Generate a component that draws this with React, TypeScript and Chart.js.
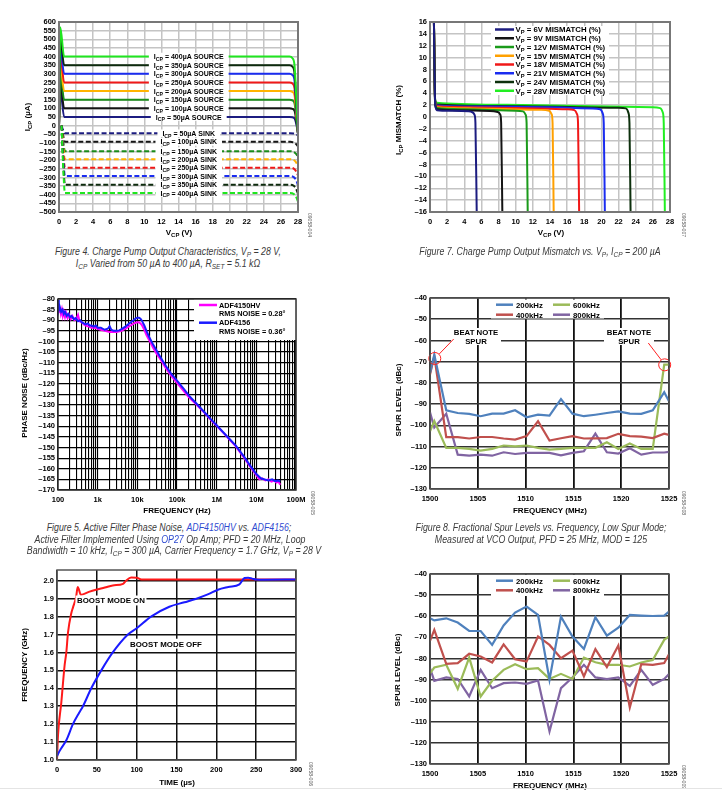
import React, { useEffect, useRef } from "react";
import { Chart, registerables } from "chart.js";

Chart.register(...registerables);

const FONT = '"Liberation Sans", Arial, Helvetica, sans-serif';

// ---------------- Figure 4: charge pump output characteristics ----------------
const FIG4_X_TICKS = [0, 2, 4, 6, 8, 10, 12, 14, 16, 18, 20, 22, 24, 26, 28];
const FIG4_Y_TICKS = [600, 550, 500, 450, 400, 350, 300, 250, 200, 150, 100, 50, 0, -50, -100, -150, -200, -250, -300, -350, -400, -450, -500];
const FIG4_LEVELS = [400, 350, 300, 250, 200, 150, 100, 50];
const FIG4_COLORS = ["#1fe61f", "#0d2a0d", "#1a2cf0", "#f01818", "#ffb400", "#1a8c1a", "#141414", "#1c1c80"];
const FIG4_SRC_X = [0, 0.15, 0.6, 27.0, 27.35, 27.6, 27.8, 28];
const FIG4_SRC_400 = [0, 570, 400, 400, 390, 345, 160, -45];
const FIG4_SRC_350 = [0, 510, 350, 350, 342, 300, 135, -45];
const FIG4_SRC_300 = [0, 460, 300, 300, 293, 258, 115, -45];
const FIG4_SRC_250 = [0, 415, 250, 250, 244, 214, 92, -45];
const FIG4_SRC_200 = [0, 360, 200, 200, 195, 172, 72, -45];
const FIG4_SRC_150 = [0, 310, 150, 150, 146, 128, 52, -45];
const FIG4_SRC_100 = [0, 260, 100, 100, 97, 85, 30, -45];
const FIG4_SRC_50 = [0, 210, 50, 50, 48, 42, 10, -45];
const FIG4_SNK_X = [0.3, 0.45, 0.7, 27.1, 27.5, 27.8, 28];
const FIG4_SNK_400 = [0, -195, -390, -390, -396, -415, -440];
const FIG4_SNK_350 = [0, -171, -342, -342, -348, -368, -395];
const FIG4_SNK_300 = [0, -146, -292, -292, -298, -318, -345];
const FIG4_SNK_250 = [0, -122, -244, -244, -249, -266, -288];
const FIG4_SNK_200 = [0, -97, -194, -194, -199, -214, -235];
const FIG4_SNK_150 = [0, -74, -148, -148, -152, -165, -182];
const FIG4_SNK_100 = [0, -48, -94, -94, -98, -108, -120];
const FIG4_SNK_50 = [0, -22, -44, -44, -46, -50, -56];
const FIG4_LABEL_X = 15.2;

// ---------------- Figure 7: mismatch vs VP ----------------
const FIG7_X_TICKS = [0, 2, 4, 6, 8, 10, 12, 14, 16, 18, 20, 22, 24, 26, 28];
const FIG7_Y_TICKS = [16, 14, 12, 10, 8, 6, 4, 2, 0, -2, -4, -6, -8, -10, -12, -14, -16];
const FIG7_NAMES = ["6V", "9V", "12V", "15V", "18V", "21V", "24V", "28V"];
const FIG7_COLORS = ["#1c1c80", "#141414", "#1a9a1a", "#ffa000", "#f01818", "#1a2cf0", "#0d300d", "#22ee22"];
const FIG7_6V_X = [0.45, 0.6, 0.8, 2.5, 4.5, 4.95, 5.2, 5.3, 5.45];
const FIG7_6V_Y = [17, 2.2, 1.15, 1.05, 0.95, 0.8, 0.35, -1, -16];
const FIG7_9V_X = [0.45, 0.6, 0.8, 3, 7.0, 7.9, 8.2, 8.3, 8.44];
const FIG7_9V_Y = [17, 2.3, 1.3, 1.15, 1.0, 0.85, 0.4, -1, -16];
const FIG7_12V_X = [0.45, 0.6, 0.8, 4, 10, 10.85, 11.15, 11.27, 11.4];
const FIG7_12V_Y = [17, 2.4, 1.5, 1.3, 1.05, 0.95, 0.4, -1, -16];
const FIG7_15V_X = [0.45, 0.6, 0.8, 5, 13, 13.9, 14.18, 14.3, 14.43];
const FIG7_15V_Y = [17, 2.5, 1.65, 1.45, 1.2, 1.05, 0.5, -1, -16];
const FIG7_18V_X = [0.45, 0.6, 0.8, 6, 16, 16.85, 17.15, 17.27, 17.4];
const FIG7_18V_Y = [17, 2.6, 1.8, 1.6, 1.3, 1.15, 0.5, -1, -16];
const FIG7_21V_X = [0.45, 0.6, 0.8, 7, 19, 19.85, 20.15, 20.27, 20.4];
const FIG7_21V_Y = [17, 2.7, 1.95, 1.75, 1.45, 1.3, 0.6, -1, -16];
const FIG7_24V_X = [0.45, 0.6, 0.8, 8, 22, 22.85, 23.15, 23.27, 23.4];
const FIG7_24V_Y = [17, 2.8, 2.1, 1.85, 1.55, 1.45, 0.7, -1, -16];
const FIG7_28V_X = [0.45, 0.6, 0.8, 9, 26, 26.85, 27.15, 27.27, 27.4];
const FIG7_28V_Y = [17, 2.9, 2.4, 2.05, 1.65, 1.5, 0.8, -1, -16];

// ---------------- Figure 5: phase noise ----------------
const FIG5_DECADES = [100, 1000, 10000, 100000, 1000000, 10000000, 100000000];
const FIG5_DECADE_LABELS = ["100", "1k", "10k", "100k", "1M", "10M", "100M"];
const FIG5_Y_TICKS = [-80, -85, -90, -95, -100, -105, -110, -115, -120, -125, -130, -135, -140, -145, -150, -155, -160, -165, -170];
const FIG5_B_FREQ = [100, 105, 110, 120, 130, 140, 150, 165, 180, 200, 220, 250, 280, 320, 360, 400, 450, 500, 560, 630, 700, 800, 900, 1000, 1200, 1500, 1800, 2000, 2200, 2500, 3000, 3500, 4000, 5000, 6000, 7000, 8000, 9000, 10000, 11000, 12000, 13000, 15000, 17000, 20000, 25000, 30000, 40000, 50000, 70000, 100000, 150000, 200000, 300000, 500000, 700000, 1000000, 1500000, 2000000, 3000000, 5000000, 7000000, 10000000, 13000000, 16000000, 20000000, 25000000, 30000000, 35000000, 40000000];
const FIG5_B_VAL = [-80.5, -85, -83.5, -86, -85, -87, -86, -88, -87, -88.5, -88, -89.5, -89, -90.5, -90, -91, -91.5, -92, -91.5, -92.5, -92.5, -93, -92.5, -93.5, -93.5, -94.5, -94, -92.8, -94.5, -95, -95, -94.8, -94.2, -93, -91.8, -90.8, -90, -89.2, -88.8, -88.8, -89.3, -90.2, -92.5, -95, -98, -101.5, -104, -108, -111, -115, -118.5, -122.5, -125.5, -129, -133.5, -136.5, -139.5, -143, -145.5, -149, -154.5, -158.5, -162.5, -164.5, -165, -165.5, -165, -165.8, -165.5, -166];
const FIG5_M_FREQ = [100, 103, 107, 112, 118, 125, 132, 140, 150, 160, 175, 190, 210, 230, 260, 290, 320, 350, 400, 450, 500, 600, 700, 800, 1000, 1200, 1500, 2000, 2500, 3000, 4000, 5000, 6000, 7000, 8000, 9000, 10000, 11000, 12000, 13000, 15000, 17000, 20000, 25000, 30000, 40000, 50000, 70000, 100000, 150000, 200000, 300000, 500000, 700000, 1000000, 1500000, 2000000, 3000000, 5000000, 7000000, 10000000, 12000000, 14000000, 17000000, 20000000, 24000000, 28000000, 32000000, 36000000, 40000000];
const FIG5_M_VAL = [-84, -82, -86, -84.5, -87, -85, -88, -86, -88.5, -86.5, -89, -87.5, -89.5, -88, -90, -89.5, -87.5, -90.5, -91, -92, -92.5, -93, -93.5, -93.5, -94, -94.5, -95, -95.5, -95.5, -95.5, -95, -94, -93, -92.3, -91.6, -91.2, -91, -91, -91.5, -92.3, -94.5, -97, -99.5, -103, -105.5, -109, -112, -116, -119.5, -123.5, -126.3, -129.5, -133.8, -136.8, -139.7, -143.2, -145.8, -149.3, -155, -159, -163, -165, -164.5, -165.5, -165, -166, -165.5, -166.5, -166, -167.5];

// ---------------- Figure 8: fractional spurs, low spur mode ----------------
const SPUR_X_TICKS = [1500, 1505, 1510, 1515, 1520, 1525];
const SPUR_Y_TICKS = [-40, -50, -60, -70, -80, -90, -100, -110, -120, -130];
const SPUR_NAMES = ["200kHz", "400kHz", "600kHz", "800kHz"];
const SPUR_COLORS = ["#4f81bd", "#c0504d", "#9bbb59", "#8064a2"];
const SPUR_FREQ = [1500, 1500.45, 1501.7, 1502.9, 1504.1, 1505.3, 1506.5, 1507.7, 1508.9, 1510.1, 1511.3, 1512.5, 1513.7, 1514.9, 1516.1, 1517.3, 1518.5, 1519.7, 1520.9, 1522.1, 1523.3, 1524.5, 1525];
const FIG8_200K = [-75.3, -66.7, -92.9, -94.2, -94.6, -95.7, -94.5, -94.5, -92.9, -96.2, -95, -95.4, -87.6, -94.5, -95.7, -95, -94.2, -93.4, -94.5, -94.6, -92.9, -84.4, -88.7];
const FIG8_400K = [-76, -67.5, -105.6, -105.6, -106.2, -105.5, -105.5, -106.2, -106.7, -105.1, -98.1, -107.2, -106.1, -105.1, -106.2, -106.1, -106, -104, -105.1, -105.3, -106, -103.9, -104.5];
const FIG8_600K = [-102.8, -98, -110.6, -110.6, -111.1, -111.9, -111.1, -109.5, -109.9, -109.5, -110.6, -111.4, -111.1, -110.6, -110.6, -110.6, -108, -111.1, -108.6, -111.1, -111.1, -71.4, -71.4];
const FIG8_800K = [-93.8, -101, -94.5, -113.8, -114.3, -113.8, -114.3, -112.7, -113.5, -113, -113, -113, -114.1, -113, -112.2, -103.9, -112.7, -113.3, -110.8, -113.8, -112.8, -112.8, -112.5];

// ---------------- Figure 9: fractional spurs (second plot) ----------------
const FIG9_200K = [-61, -62, -61, -63, -67, -67, -73.6, -64.4, -58.3, -55.4, -59.4, -90.1, -60.2, -69.6, -75.5, -60.5, -69.2, -65.4, -59.4, -59.7, -59.9, -59.7, -57.8];
const FIG9_400K = [-71.7, -66.5, -82.6, -82.2, -77.8, -79.1, -81.9, -73.3, -80.4, -81.5, -69.6, -73.6, -79.9, -76.3, -88.5, -75.6, -84.1, -73.9, -103.2, -82.7, -83, -82.2, -78];
const FIG9_600K = [-87, -84.3, -83, -94.4, -79.6, -98, -90.6, -85.4, -82.7, -85.1, -84.6, -89.7, -87.3, -89.7, -79.6, -81.8, -83, -83, -83.8, -81.9, -80.7, -71.2, -69.6];
const FIG9_800K = [-84.6, -90.6, -89, -89.7, -98, -85.4, -94.1, -91.7, -91.4, -92, -90.4, -114.6, -94.1, -89, -83, -89, -89.8, -89, -93, -85.4, -92.5, -89.7, -87.4];

// ---------------- Figure 6: lock time ----------------
const FIG6_X_TICKS = [0, 50, 100, 150, 200, 250, 300];
const FIG6_Y_TICKS = [1.0, 1.1, 1.2, 1.3, 1.4, 1.5, 1.6, 1.7, 1.8, 1.9, 2.0];
const FIG6_ON_T = [0, 1.3, 5.4, 9.6, 11.7, 13.8, 18, 20, 24, 26, 30, 40, 49, 60, 70, 83, 87, 93, 100, 106, 120, 150, 200, 250, 300];
const FIG6_ON_F = [1.0, 1.14, 1.32, 1.53, 1.6, 1.71, 1.82, 1.85, 1.91, 1.965, 1.922, 1.938, 1.95, 1.962, 1.974, 1.983, 2.002, 2.018, 2.017, 2.007, 2.007, 2.007, 2.007, 2.007, 2.007];
const FIG6_OFF_T = [0, 2, 5, 11.7, 20, 28, 32.6, 43, 55.6, 70, 89, 100, 118, 141, 160, 175, 190, 202, 215, 229, 235.5, 240, 245, 250, 260, 300];
const FIG6_OFF_F = [1.02, 1.04, 1.063, 1.11, 1.2, 1.265, 1.3, 1.4, 1.5, 1.6, 1.7, 1.735, 1.8, 1.855, 1.88, 1.9, 1.925, 1.95, 1.965, 1.98, 2.015, 2.017, 2.012, 2.007, 2.006, 2.007];

// ---------------- layout ----------------
const YW = 44, PT = 8, PR = 16, XH = 22;
const R_FIG4 = { l: 59, t: 22, r: 298, b: 212 };
const R_FIG7 = { l: 430, t: 22, r: 670, b: 212 };
const R_FIG5 = { l: 58, t: 299, r: 296, b: 490 };
const R_FIG8 = { l: 430, t: 298, r: 669, b: 489 };
const R_FIG6 = { l: 57, t: 570, r: 296, b: 760 };
const R_FIG9 = { l: 430, t: 574, r: 669, b: 764 };

const TICK_FONT = { family: FONT, size: 7.5, weight: "bold" as const };
const pts = (xs: number[], ys: number[]) => xs.map((x, i) => ({ x, y: ys[i] }));
const neg = (v: number) => (v < 0 ? "\u2013" + Math.abs(v) : String(v));

type Seg = [string, boolean?];

function drawRich(ctx: CanvasRenderingContext2D, segs: Seg[], x: number, y: number, size: number, align: "left" | "center", bg?: [number, number]) {
  const sub = size * 0.74;
  let w = 0;
  for (const [t, s] of segs) {
    ctx.font = `bold ${s ? sub : size}px ${FONT}`;
    w += ctx.measureText(t).width;
  }
  let cx = align === "center" ? x - w / 2 : x;
  if (bg) {
    ctx.fillStyle = "#fff";
    ctx.fillRect(cx - bg[0], y - size / 2 - bg[1], w + 2 * bg[0], size + 2 * bg[1]);
  }
  ctx.fillStyle = "#000";
  ctx.textAlign = "left";
  ctx.textBaseline = "alphabetic";
  const base = y + size * 0.36;
  for (const [t, s] of segs) {
    ctx.font = `bold ${s ? sub : size}px ${FONT}`;
    ctx.fillText(t, cx, s ? base + size * 0.28 : base);
    cx += ctx.measureText(t).width;
  }
  return w;
}

function linAxis(kind: "x" | "y", min: number, max: number, ticks: number[], grid: { color: string; width: number }, fmt: (v: number) => string) {
  return {
    type: "linear",
    min,
    max,
    afterFit: (s: any) => {
      if (kind === "x") { s.height = XH; s.paddingLeft = 0; s.paddingRight = 0; }
      else { s.width = YW; s.paddingTop = 0; s.paddingBottom = 0; }
    },
    afterBuildTicks: (s: any) => { s.ticks = ticks.map((v) => ({ value: v })); },
    grid: { color: grid.color, lineWidth: grid.width, drawTicks: false },
    border: { display: false },
    ticks: { autoSkip: false, maxRotation: 0, font: TICK_FONT, color: "#000", padding: kind === "x" ? 5 : 3, callback: (v: any) => fmt(Number(v)) },
  };
}

function framePlugin(color: string, width: number) {
  return {
    id: "frame",
    afterDraw(chart: any) {
      const { ctx, chartArea: a } = chart;
      ctx.save();
      ctx.strokeStyle = color;
      ctx.lineWidth = width;
      ctx.strokeRect(a.left, a.top, a.right - a.left, a.bottom - a.top);
      ctx.restore();
    },
  };
}

function baseOptions(scales: any) {
  return {
    responsive: false,
    animation: false,
    events: [],
    layout: { padding: { top: PT, right: PR, left: 0, bottom: 0 } },
    plugins: { legend: { display: false }, tooltip: { enabled: false } },
    elements: { point: { radius: 0 }, line: { borderWidth: 2 } },
    scales,
  };
}

// ---------------- chart configs ----------------
function makeFig4(): any {
  const srcs = [FIG4_SRC_400, FIG4_SRC_350, FIG4_SRC_300, FIG4_SRC_250, FIG4_SRC_200, FIG4_SRC_150, FIG4_SRC_100, FIG4_SRC_50];
  const snks = [FIG4_SNK_400, FIG4_SNK_350, FIG4_SNK_300, FIG4_SNK_250, FIG4_SNK_200, FIG4_SNK_150, FIG4_SNK_100, FIG4_SNK_50];
  const datasets: any[] = [];
  FIG4_LEVELS.forEach((lvl, i) => {
    datasets.push({ label: `${lvl}µA SOURCE`, data: pts(FIG4_SRC_X, srcs[i]), borderColor: FIG4_COLORS[i], cubicInterpolationMode: "monotone" });
  });
  FIG4_LEVELS.forEach((lvl, i) => {
    datasets.push({ label: `${lvl}µA SINK`, data: pts(FIG4_SNK_X, snks[i]), borderColor: FIG4_COLORS[i], borderDash: [5, 2.5], cubicInterpolationMode: "monotone" });
  });
  const grid = { color: "#c4c4c4", width: 1.5 };
  const labels = {
    id: "fig4labels",
    afterDatasetsDraw(chart: any) {
      const { ctx, scales } = chart;
      ctx.save();
      const px = scales.x.getPixelForValue(FIG4_LABEL_X);
      FIG4_LEVELS.forEach((lvl, i) => {
        drawRich(ctx, [["I"], ["CP", true], [` = ${lvl}µA SOURCE`]], px, scales.y.getPixelForValue(srcs[i][2]), 7, "center", [5, 0.3]);
        drawRich(ctx, [["I"], ["CP", true], [` = ${FIG4_LEVELS[7 - i]}µA SINK`]], px, scales.y.getPixelForValue(snks[7 - i][2]), 7, "center", [5, 0.3]);
      });
      ctx.restore();
    },
  };
  return {
    type: "line",
    data: { datasets },
    options: baseOptions({
      x: linAxis("x", 0, 28, FIG4_X_TICKS, grid, neg),
      y: linAxis("y", -500, 600, FIG4_Y_TICKS, grid, neg),
    }),
    plugins: [labels, framePlugin("#777", 2)],
  };
}

function makeFig7(): any {
  const xs = [FIG7_6V_X, FIG7_9V_X, FIG7_12V_X, FIG7_15V_X, FIG7_18V_X, FIG7_21V_X, FIG7_24V_X, FIG7_28V_X];
  const ys = [FIG7_6V_Y, FIG7_9V_Y, FIG7_12V_Y, FIG7_15V_Y, FIG7_18V_Y, FIG7_21V_Y, FIG7_24V_Y, FIG7_28V_Y];
  const datasets = FIG7_NAMES.map((n, i) => ({ label: n, data: pts(xs[i], ys[i]), borderColor: FIG7_COLORS[i], cubicInterpolationMode: "monotone" }));
  const grid = { color: "#c4c4c4", width: 1.5 };
  const legend = {
    id: "fig7legend",
    afterDatasetsDraw(chart: any) {
      const { ctx, chartArea: a } = chart;
      ctx.save();
      ctx.fillStyle = "#fff";
      ctx.fillRect(a.left + 61, a.top + 4, 118, 69);
      FIG7_NAMES.forEach((n, i) => {
        const y = a.top + 7.5 + i * 8.75;
        ctx.strokeStyle = FIG7_COLORS[i];
        ctx.lineWidth = 2.5;
        ctx.beginPath();
        ctx.moveTo(a.left + 65, y);
        ctx.lineTo(a.left + 84, y);
        ctx.stroke();
        drawRich(ctx, [["V"], ["P", true], [` = ${n} MISMATCH (%)`]], a.left + 85.5, y, 7.8, "left");
      });
      ctx.restore();
    },
  };
  return {
    type: "line",
    data: { datasets },
    options: baseOptions({
      x: linAxis("x", 0, 28, FIG7_X_TICKS, grid, neg),
      y: linAxis("y", -16, 16, FIG7_Y_TICKS, grid, neg),
    }),
    plugins: [legend, framePlugin("#777", 2)],
  };
}

function makeFig5(): any {
  const logTicks: number[] = [];
  for (let d = 0; d < FIG5_DECADES.length - 1; d++) for (let m = 1; m < 10; m++) logTicks.push(FIG5_DECADES[d] * m);
  logTicks.push(FIG5_DECADES[FIG5_DECADES.length - 1]);
  const xAxis = {
    type: "logarithmic",
    min: 100,
    max: 100000000,
    afterFit: (s: any) => { s.height = XH; s.paddingLeft = 0; s.paddingRight = 0; },
    afterBuildTicks: (s: any) => { s.ticks = logTicks.map((v) => ({ value: v })); },
    grid: { color: "#000", lineWidth: 1.1, drawTicks: false },
    border: { display: false },
    ticks: {
      autoSkip: false, maxRotation: 0, font: TICK_FONT, color: "#000", padding: 5,
      callback: (v: any) => {
        const k = FIG5_DECADES.indexOf(Number(v));
        return k >= 0 ? FIG5_DECADE_LABELS[k] : "";
      },
    },
  };
  const legend = {
    id: "fig5legend",
    afterDatasetsDraw(chart: any) {
      const { ctx, chartArea: a } = chart;
      ctx.save();
      ctx.fillStyle = "#fff";
      ctx.fillRect(a.left + 136, a.top, a.right - a.left - 136, 41);
      const rows: [string, number][] = [["#ff00ff", 6], ["#1a1aff", 23.7]];
      rows.forEach(([c, y]) => {
        ctx.strokeStyle = c;
        ctx.lineWidth = 2.5;
        ctx.beginPath();
        ctx.moveTo(a.left + 141, a.top + y);
        ctx.lineTo(a.left + 159, a.top + y);
        ctx.stroke();
      });
      drawRich(ctx, [["ADF4150HV"]], a.left + 161, a.top + 6, 7.3, "left");
      drawRich(ctx, [["RMS NOISE = 0.28°"]], a.left + 161, a.top + 14.2, 7.3, "left");
      drawRich(ctx, [["ADF4156"]], a.left + 161, a.top + 23.7, 7.3, "left");
      drawRich(ctx, [["RMS NOISE = 0.36°"]], a.left + 161, a.top + 32.2, 7.3, "left");
      ctx.restore();
    },
  };
  return {
    type: "line",
    data: {
      datasets: [
        { label: "ADF4156", data: pts(FIG5_B_FREQ, FIG5_B_VAL), borderColor: "#1a1aff" },
        { label: "ADF4150HV", data: pts(FIG5_M_FREQ, FIG5_M_VAL), borderColor: "#ff00ff" },
      ],
    },
    options: baseOptions({
      x: xAxis,
      y: linAxis("y", -170, -80, FIG5_Y_TICKS, { color: "#000", width: 1.3 }, neg),
    }),
    plugins: [legend, framePlugin("#333", 1.5)],
  };
}

function spurLegend(rowY: [number, number], boxTop: number, boxH: number) {
  return (chart: any) => {
    const { ctx, chartArea: a } = chart;
    ctx.fillStyle = "#fff";
    ctx.fillRect(a.left + 61, a.top + boxTop, 113, boxH);
    const cells: [number, number, number][] = [[0, 0, 0], [1, 0, 1], [2, 1, 0], [3, 1, 1]];
    cells.forEach(([si, col, row]) => {
      const y = a.top + rowY[row];
      const lx = a.left + (col === 0 ? 66 : 123);
      ctx.strokeStyle = SPUR_COLORS[si];
      ctx.lineWidth = 2.5;
      ctx.beginPath();
      ctx.moveTo(lx, y);
      ctx.lineTo(lx + 17, y);
      ctx.stroke();
      drawRich(ctx, [[SPUR_NAMES[si]]], lx + 20, y, 7.8, "left");
    });
  };
}

function spurDatasets(series: number[][]) {
  return series.map((s, i) => ({ label: SPUR_NAMES[i], data: pts(SPUR_FREQ, s), borderColor: SPUR_COLORS[i], borderWidth: 2.2 }));
}

function spurScales() {
  return {
    x: { ...linAxis("x", 1500, 1525, SPUR_X_TICKS, { color: "#111", width: 1.8 }, neg) },
    y: linAxis("y", -130, -40, SPUR_Y_TICKS, { color: "#333", width: 1.5 }, neg),
  };
}

function makeFig8(): any {
  const leg = spurLegend([6.7, 16.7], 1.5, 19);
  const overlay = {
    id: "fig8overlay",
    afterDatasetsDraw(chart: any) {
      const { ctx, chartArea: a, scales } = chart;
      ctx.save();
      leg(chart);
      // beat-note annotations
      const notes: [number, number][] = [[46, 0], [199, 0]];
      notes.forEach(([cx]) => {
        ctx.fillStyle = "#fff";
        ctx.fillRect(a.left + cx - 25, a.top + 30, 50, 17);
        drawRich(ctx, [["BEAT NOTE"]], a.left + cx, a.top + 34.4, 7.8, "center");
        drawRich(ctx, [["SPUR"]], a.left + cx, a.top + 42.7, 7.8, "center");
      });
      ctx.strokeStyle = "#ff2020";
      ctx.lineWidth = 1;
      const c1x = scales.x.getPixelForValue(1500.5), c1y = scales.y.getPixelForValue(-68.5);
      const c2x = scales.x.getPixelForValue(1524.55), c2y = scales.y.getPixelForValue(-71.5);
      ctx.beginPath(); ctx.arc(c1x, c1y, 6, 0, Math.PI * 2); ctx.stroke();
      ctx.beginPath(); ctx.arc(c2x, c2y, 6, 0, Math.PI * 2); ctx.stroke();
      ctx.beginPath(); ctx.moveTo(c1x + 4.5, c1y - 4.5); ctx.lineTo(a.left + 23.7, a.top + 41); ctx.stroke();
      ctx.beginPath(); ctx.moveTo(c2x - 3.5, c2y - 5); ctx.lineTo(a.left + 218.3, a.top + 45); ctx.stroke();
      ctx.restore();
    },
  };
  return {
    type: "line",
    data: { datasets: spurDatasets([FIG8_200K, FIG8_400K, FIG8_600K, FIG8_800K]) },
    options: baseOptions(spurScales()),
    plugins: [overlay, framePlugin("#555", 1.5)],
  };
}

function makeFig9(): any {
  const leg = spurLegend([6.7, 16.3], 1, 21);
  const overlay = {
    id: "fig9overlay",
    afterDatasetsDraw(chart: any) {
      chart.ctx.save();
      leg(chart);
      chart.ctx.restore();
    },
  };
  return {
    type: "line",
    data: { datasets: spurDatasets([FIG9_200K, FIG9_400K, FIG9_600K, FIG9_800K]) },
    options: baseOptions(spurScales()),
    plugins: [overlay, framePlugin("#555", 1.5)],
  };
}

function makeFig6(): any {
  const grid = { color: "#111", width: 1.5 };
  const labels = {
    id: "fig6labels",
    afterDatasetsDraw(chart: any) {
      const { ctx, scales } = chart;
      ctx.save();
      drawRich(ctx, [["BOOST MODE ON"]], scales.x.getPixelForValue(25.1), scales.y.getPixelForValue(1.89), 7.9, "left", [1.5, 1]);
      drawRich(ctx, [["BOOST MODE OFF"]], scales.x.getPixelForValue(91.6), scales.y.getPixelForValue(1.649), 7.9, "left", [1.5, 1]);
      ctx.restore();
    },
  };
  return {
    type: "line",
    data: {
      datasets: [
        { label: "BOOST MODE OFF", data: pts(FIG6_OFF_T, FIG6_OFF_F), borderColor: "#1a1aff", cubicInterpolationMode: "monotone" },
        { label: "BOOST MODE ON", data: pts(FIG6_ON_T, FIG6_ON_F), borderColor: "#ff1a1a", cubicInterpolationMode: "monotone" },
      ],
    },
    options: baseOptions({
      x: linAxis("x", 0, 300, FIG6_X_TICKS, grid, neg),
      y: linAxis("y", 1.0, 2.06, FIG6_Y_TICKS, grid, (v) => v.toFixed(1)),
    }),
    plugins: [labels, framePlugin("#555", 1.5)],
  };
}

// ---------------- React ----------------
function ChartBox({ rect, make }: { rect: { l: number; t: number; r: number; b: number }; make: () => any }) {
  const ref = useRef<HTMLCanvasElement>(null);
  const w = rect.r - rect.l + YW + PR;
  const h = rect.b - rect.t + PT + XH;
  useEffect(() => {
    const c = new Chart(ref.current as HTMLCanvasElement, make());
    return () => c.destroy();
  }, []);
  return (
    <canvas ref={ref} width={w} height={h} style={{ position: "absolute", left: rect.l - YW, top: rect.t - PT, width: w, height: h }} />
  );
}

const Sub = ({ children }: any) => <span style={{ fontSize: "0.74em", verticalAlign: "-0.28em" }}>{children}</span>;
const Lnk = ({ children }: any) => <span style={{ color: "#2f4bd0" }}>{children}</span>;

function Lbl({ x, y, rot = 0, size = 8, children }: any) {
  return (
    <div style={{ position: "absolute", left: x, top: y, transform: `translate(-50%,-50%) rotate(${rot}deg)`, whiteSpace: "nowrap", font: `bold ${size}px ${FONT}`, color: "#000", lineHeight: 1 }}>
      {children}
    </div>
  );
}

function Cap({ x, y, sx = 0.88, children }: any) {
  return (
    <div style={{ position: "absolute", left: x, top: y, transform: `translate(-50%,-50%) scaleX(${sx})`, whiteSpace: "nowrap", font: `italic 10px ${FONT}`, color: "#3a3a3a", lineHeight: 1 }}>
      {children}
    </div>
  );
}

function Id({ x, y, children }: any) {
  return (
    <div style={{ position: "absolute", left: x, top: y, transform: "translate(-50%,-50%) rotate(90deg)", whiteSpace: "nowrap", font: `5px ${FONT}`, color: "#555", lineHeight: 1 }}>
      {children}
    </div>
  );
}

export default function App() {
  return (
    <div style={{ position: "absolute", left: 0, top: 0, width: 722, height: 791, background: "#fff", overflow: "hidden" }}>
      <ChartBox rect={R_FIG4} make={makeFig4} />
      <ChartBox rect={R_FIG7} make={makeFig7} />
      <ChartBox rect={R_FIG5} make={makeFig5} />
      <ChartBox rect={R_FIG8} make={makeFig8} />
      <ChartBox rect={R_FIG6} make={makeFig6} />
      <ChartBox rect={R_FIG9} make={makeFig9} />

      <Lbl x={29} y={117} rot={-90}>I<Sub>CP</Sub> (µA)</Lbl>
      <Lbl x={179} y={234}>V<Sub>CP</Sub> (V)</Lbl>
      <Lbl x={400} y={120} rot={-90}>I<Sub>CP</Sub> MISMATCH (%)</Lbl>
      <Lbl x={551} y={234}>V<Sub>CP</Sub> (V)</Lbl>
      <Lbl x={25} y={393} rot={-90}>PHASE NOISE (dBc/Hz)</Lbl>
      <Lbl x={177} y={511}>FREQUENCY (Hz)</Lbl>
      <Lbl x={399} y={400} rot={-90}>SPUR LEVEL (dBc)</Lbl>
      <Lbl x={550} y={511}>FREQUENCY (MHz)</Lbl>
      <Lbl x={25} y={665} rot={-90}>FREQUENCY (GHz)</Lbl>
      <Lbl x={177} y={783}>TIME (µs)</Lbl>
      <Lbl x={398} y={670} rot={-90}>SPUR LEVEL (dBc)</Lbl>
      <Lbl x={550} y={786}>FREQUENCY (MHz)</Lbl>

      <Id x={309} y={225}>09058-004</Id>
      <Id x={683} y={225}>09058-007</Id>
      <Id x={312} y={503}>09058-005</Id>
      <Id x={683} y={503}>09058-008</Id>
      <Id x={310} y={774}>09058-006</Id>
      <Id x={683} y={777}>09058-009</Id>

      <Cap x={168} y={252.5}>Figure 4. Charge Pump Output Characteristics, V<Sub>P</Sub> = 28 V,</Cap>
      <Cap x={168} y={265}>I<Sub>CP</Sub> Varied from 50 µA to 400 µA, R<Sub>SET</Sub> = 5.1 kΩ</Cap>
      <Cap x={540} y={253}>Figure 7. Charge Pump Output Mismatch vs. V<Sub>P</Sub>, I<Sub>CP</Sub> = 200 µA</Cap>
      <Cap x={169} y={527.5}>Figure 5. Active Filter Phase Noise, <Lnk>ADF4150HV</Lnk> vs. <Lnk>ADF4156</Lnk>;</Cap>
      <Cap x={170} y={539.5}>Active Filter Implemented Using <Lnk>OP27</Lnk> Op Amp; PFD = 20 MHz, Loop</Cap>
      <Cap x={174} y={551.5}>Bandwidth = 10 kHz, I<Sub>CP</Sub> = 300 µA, Carrier Frequency = 1.7 GHz, V<Sub>P</Sub> = 28 V</Cap>
      <Cap x={541} y={527.5}>Figure 8. Fractional Spur Levels vs. Frequency, Low Spur Mode;</Cap>
      <Cap x={541} y={540}>Measured at VCO Output, PFD = 25 MHz, MOD = 125</Cap>

      <div style={{ position: "absolute", left: 0, top: 788, width: 722, height: 1, background: "#e4e4e4" }} />
    </div>
  );
}
